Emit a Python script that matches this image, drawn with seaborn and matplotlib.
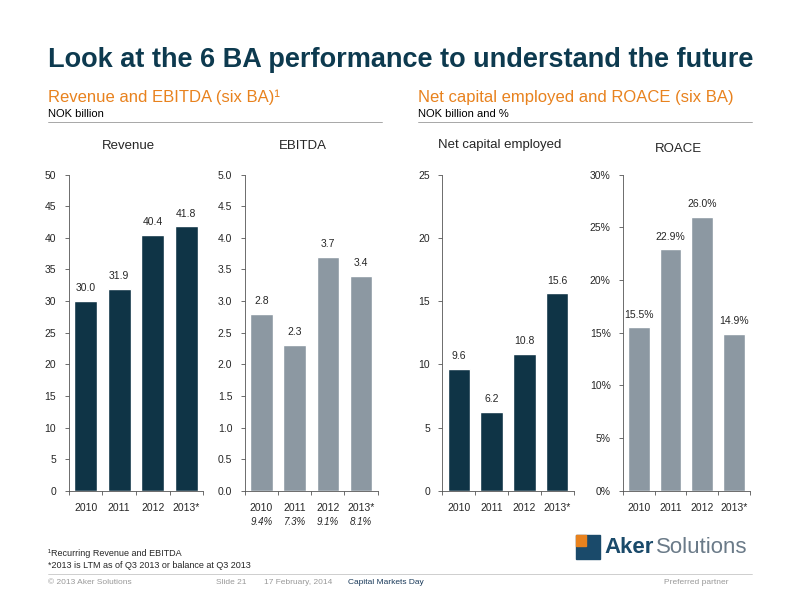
import matplotlib
matplotlib.use("Agg")
import matplotlib.pyplot as plt
import seaborn as sns
import pandas as pd
from matplotlib.patches import Rectangle

years = ["2010", "2011", "2012", "2013*"]
revenue = [30.0, 31.9, 40.4, 41.8]
ebitda = [2.8, 2.3, 3.7, 3.4]
margins = ["9.4%", "7.3%", "9.1%", "8.1%"]
nce = [9.6, 6.2, 10.8, 15.6]
roace = [15.5, 22.9, 26.0, 14.9]

DARK = "#0f3446"
GREY = "#8c98a2"
ORANGE = "#e8821e"

sns.set_theme(style="white")
plt.rcParams['font.family'] = ['Liberation Sans', 'DejaVu Sans']

fig = plt.figure(figsize=(8, 6), dpi=100)

fig.text(0.06, 0.9, "Look at the 6 BA performance to understand the future",
         fontsize=19.5, fontweight="bold", color="#0d3a4f", va="center")
fig.text(0.06, 0.838, "Revenue and EBITDA (six BA)\u00b9", fontsize=12, color=ORANGE, va="center")
fig.text(0.06, 0.81, "NOK billion", fontsize=8, color="black", va="center")
fig.text(0.523, 0.838, "Net capital employed and ROACE (six BA)", fontsize=12, color=ORANGE, va="center")
fig.text(0.523, 0.81, "NOK billion and %", fontsize=8, color="black", va="center")
fig.add_artist(plt.Line2D([0.06, 0.478], [0.797, 0.797], color="#999999", lw=0.6))
fig.add_artist(plt.Line2D([0.523, 0.94], [0.797, 0.797], color="#999999", lw=0.6))

panels = [
    (0.086, 0.168, revenue, DARK, (0, 50), 5, "{:.1f}", "{:.0f}", "Revenue", 0.757),
    (0.306, 0.166, ebitda, GREY, (0, 5), 0.5, "{:.1f}", "{:.1f}", "EBITDA", 0.757),
    (0.553, 0.164, nce, DARK, (0, 25), 5, "{:.1f}", "{:.0f}", "Net capital employed", 0.758),
    (0.779, 0.158, roace, GREY, (0, 30), 5, "{:.1f}%", "{:.0f}%", "ROACE", 0.751),
]
for left, width, vals, col, lim, step, lab_fmt, tick_fmt, title, yt in panels:
    ax = fig.add_axes([left, 0.182, width, 0.527])
    df = pd.DataFrame({"year": years, "v": vals})
    sns.barplot(data=df, x="year", y="v", color=col, width=0.68, saturation=1, ax=ax)
    ax.set_ylim(*lim)
    ticks = [lim[0] + i * step for i in range(int(round((lim[1] - lim[0]) / step)) + 1)]
    ax.set_yticks(ticks)
    ax.set_yticklabels([tick_fmt.format(t) for t in ticks], fontsize=7.5)
    ax.set_xlim(-0.5, 3.5)
    ax.set_xticks([-0.5, 0.5, 1.5, 2.5, 3.5], minor=False)
    ax.set_xticklabels([])
    ax.set_xticks(range(4), minor=True)
    ax.set_xticklabels(years, minor=True, fontsize=7.5)
    ax.tick_params(axis="x", which="major", bottom=True, length=3, width=0.6, color="#555555")
    ax.tick_params(axis="x", which="minor", bottom=False, length=0, pad=9)
    ax.tick_params(axis="y", left=True, length=3, width=0.6, color="#555555", pad=6)
    ax.set_xlabel("")
    ax.set_ylabel("")
    for s in ["top", "right"]:
        ax.spines[s].set_visible(False)
    for s in ["left", "bottom"]:
        ax.spines[s].set_color("#555555")
        ax.spines[s].set_linewidth(0.6)
    for i, v in enumerate(vals):
        ax.text(i, v + (lim[1] - lim[0]) * 0.025, lab_fmt.format(v),
                ha="center", va="bottom", fontsize=7.5)
    fig.text(left + width / 2 - 0.01, yt, title, ha="center", va="center", fontsize=9.5)
    if title == "EBITDA":
        for i, m in enumerate(margins):
            ax.text(i, -0.1, m, transform=ax.get_xaxis_transform(),
                    ha="center", va="center", fontsize=7, style="italic")

fig.text(0.06, 0.077, "\u00b9Recurring Revenue and EBITDA", fontsize=6.5, va="center")
fig.text(0.06, 0.057, "*2013 is LTM as of Q3 2013 or balance at Q3 2013", fontsize=6.5, va="center")
fig.add_artist(plt.Line2D([0.06, 0.94], [0.043, 0.043], color="#bbbbbb", lw=0.5))
fig.text(0.06, 0.03, "\u00a9 2013 Aker Solutions", fontsize=6, color="#999999", va="center")
fig.text(0.27, 0.03, "Slide 21", fontsize=6, color="#999999", va="center")
fig.text(0.33, 0.03, "17 February, 2014", fontsize=6, color="#999999", va="center")
fig.text(0.435, 0.03, "Capital Markets Day", fontsize=6, color="#1a3a5a", va="center")
fig.text(0.91, 0.03, "Preferred partner", fontsize=6, color="#999999", va="center", ha="right")

# logo
fig.add_artist(Rectangle((0.72, 0.068), 0.03, 0.04, color="#1a4a6a", transform=fig.transFigure))
fig.add_artist(Rectangle((0.72, 0.09), 0.012, 0.018, color=ORANGE, transform=fig.transFigure))
fig.text(0.755, 0.087, "Aker", fontsize=16, fontweight="bold", color="#1a4a6a", va="center")
fig.text(0.82, 0.087, "Solutions", fontsize=16, color="#6a7a88", va="center")

fig.savefig("out.png", dpi=100)
